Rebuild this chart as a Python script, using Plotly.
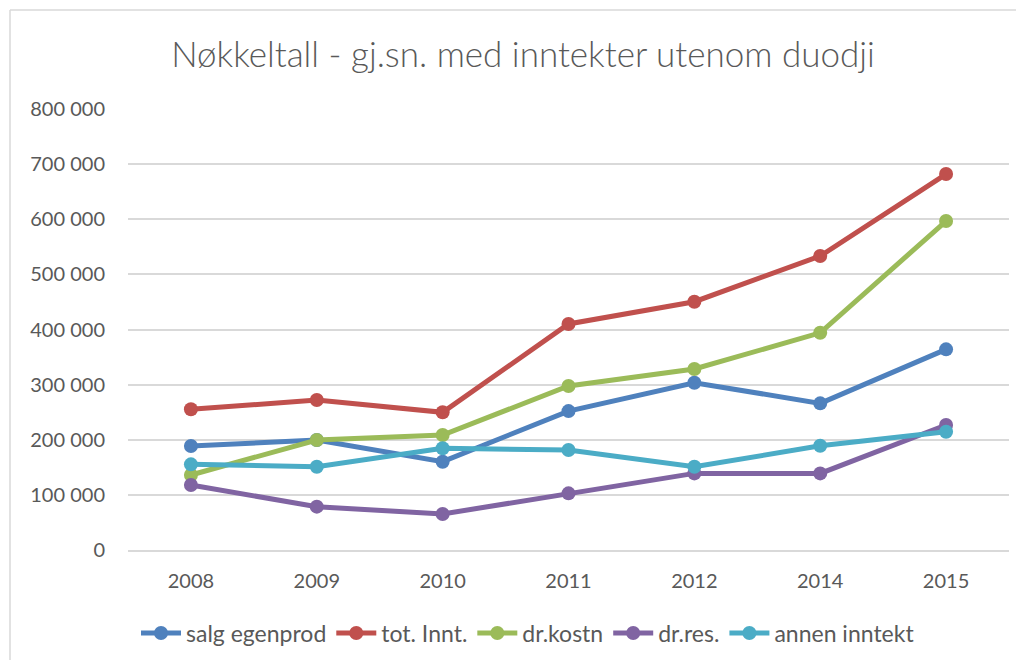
import plotly.graph_objects as go

years = ["2008", "2009", "2010", "2011", "2012", "2014", "2015"]
salg_egenprod = [188700, 199500, 160200, 252000, 303500, 266000, 364000]
tot_innt = [255200, 272000, 249800, 410000, 450400, 533300, 682000]
dr_kostn = [136000, 199500, 208600, 297500, 328300, 394000, 596800]
dr_res = [117900, 78600, 65300, 102800, 139000, 139000, 226800]
annen_inntekt = [155400, 151000, 184500, 181400, 151000, 189000, 214600]

series = [
    ("salg egenprod", salg_egenprod, "#4F81BD"),
    ("tot. Innt.", tot_innt, "#C0504D"),
    ("dr.kostn", dr_kostn, "#9BBB59"),
    ("dr.res.", dr_res, "#8064A2"),
    ("annen inntekt", annen_inntekt, "#4BACC6"),
]

FONT = "Lato, 'Open Sans', sans-serif"
TXT = "#595959"

W, H = 1008, 652  # page body has an 8px margin

fig = go.Figure()
for name, vals, col in series:
    fig.add_trace(go.Scatter(
        x=years, y=vals, name=name, mode="lines+markers",
        line=dict(color=col, width=5),
        marker=dict(color=col, size=14),
    ))

fig.update_layout(
    width=W, height=H,
    margin=dict(l=120, r=7, t=101, b=110),
    paper_bgcolor="white", plot_bgcolor="white",
    separators=", ",
    font=dict(family=FONT, color=TXT, size=20),
    title=dict(text="Nøkkeltall - gj.sn. med inntekter utenom duodji",
               font=dict(family=FONT, size=35, color=TXT, weight=300),
               x=(523 - 8) / W, xanchor="center", xref="container",
               y=1 - 47 / H, yanchor="middle", yref="container"),
    legend=dict(orientation="h", x=(528 - 8) / W, xanchor="center", xref="container",
                y=1 - 625 / H, yanchor="middle", yref="container",
                font=dict(family=FONT, size=23, color=TXT),
                itemwidth=40),
    showlegend=True,
)
fig.update_xaxes(type="category", range=[-0.5, 6.5], showgrid=False,
                 showline=True, linecolor="#D9D9D9", linewidth=1.5,
                 ticks="", ticklabelstandoff=12,
                 tickfont=dict(family=FONT, size=20, color=TXT))
fig.update_yaxes(range=[0, 800000], dtick=100000, tickformat=",d",
                 showgrid=True, gridcolor="#D9D9D9", gridwidth=1.5,
                 zeroline=False, showline=False, ticks="",
                 ticklabelstandoff=22,
                 tickfont=dict(family=FONT, size=20, color=TXT))

# chart-area border: only top and left edges are visible in the window
bx0 = (2 - 120) / 881
by1 = (542 - 2) / 441
border = dict(color="#D9D9D9", width=1.5)
fig.add_shape(type="line", xref="paper", yref="paper",
              x0=bx0, x1=1.2, y0=by1, y1=by1, line=border, layer="below")
fig.add_shape(type="line", xref="paper", yref="paper",
              x0=bx0, x1=bx0, y0=-0.4, y1=by1, line=border, layer="below")

fig.write_html("out.html")
